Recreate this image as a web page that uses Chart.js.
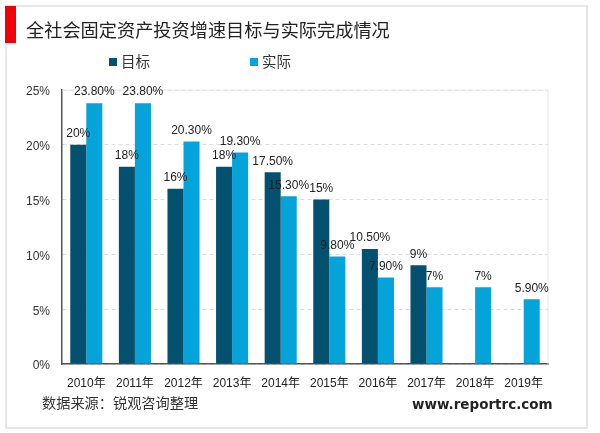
<!DOCTYPE html>
<html>
<head>
<meta charset="utf-8">
<style>
  html, body { margin: 0; padding: 0; background: #fff; }
  #wrap { position: relative; width: 600px; height: 433px; overflow: hidden; font-family: "Noto Sans CJK SC", sans-serif; }
  #frame { position: absolute; left: 5px; top: 5px; width: 583px; height: 424px; border: 2px solid #e6e6e6; box-sizing: border-box; }
  #mark { position: absolute; left: 5px; top: 6px; width: 11px; height: 37px; background: #f00008; }
  #title { position: absolute; left: 26px; top: 16px; font-size: 18.2px; line-height: 26px; color: #222; }
  #source { position: absolute; left: 42px; top: 392px; font-size: 14.2px; line-height: 20px; color: #333; }
  #site { position: absolute; left: 412px; top: 394px; font-family: "DejaVu Sans", sans-serif; font-size: 13.5px; font-weight: bold; line-height: 20px; color: #222; }
  canvas { position: absolute; left: 0; top: 0; }
</style>
</head>
<body>
<div id="wrap">
  <div id="frame"></div>
  <canvas id="chart" width="600" height="433"></canvas>
  <div id="mark"></div>
  <div id="title">全社会固定资产投资增速目标与实际完成情况</div>
  <div id="source">数据来源：锐观咨询整理</div>
  <div id="site">www.reportrc.com</div>
</div>
<script src="https://cdn.jsdelivr.net/npm/chart.js@4"></script>
<script>
// values
const years = ['2010年', '2011年', '2012年', '2013年', '2014年', '2015年', '2016年', '2017年', '2018年', '2019年'];
const targetValues = [20, 18, 16, 18, 17.5, 15, 10.5, 9, null, null];
const actualValues = [23.8, 23.8, 20.3, 19.3, 15.3, 9.8, 7.9, 7, 7, 5.9];
const targetLabels = ['20%', '18%', '16%', '18%', '17.50%', '15%', '10.50%', '9%', '', ''];
const actualLabels = ['23.80%', '23.80%', '20.30%', '19.30%', '15.30%', '9.80%', '7.90%', '7%', '7%', '5.90%'];
const yTicks = [0, 5, 10, 15, 20, 25];

// draws the text above each bar
const barLabels = {
  id: 'barLabels',
  afterDatasetsDraw(chart) {
    const ctx = chart.ctx;
    ctx.save();
    ctx.font = '12px "Liberation Sans", sans-serif';
    ctx.fillStyle = '#222';
    ctx.textAlign = 'center';
    ctx.textBaseline = 'bottom';
    chart.data.datasets.forEach((ds, i) => {
      chart.getDatasetMeta(i).data.forEach((bar, j) => {
        if (ds.data[j] === null) return;
        ctx.fillText(ds.valueLabels[j], bar.x, bar.y - 5);
      });
    });
    ctx.restore();
  }
};

// legend sits off-centre in the original, so it is placed by hand
const legendRow = {
  id: 'legendRow',
  afterDraw(chart) {
    const ctx = chart.ctx;
    const slots = [109, 250];
    ctx.save();
    ctx.font = '14.5px "Noto Sans CJK SC", sans-serif';
    ctx.textBaseline = 'middle';
    chart.data.datasets.forEach((ds, i) => {
      ctx.fillStyle = ds.backgroundColor;
      ctx.fillRect(slots[i], 58, 8, 8);
      ctx.fillStyle = '#333';
      ctx.fillText(ds.label, slots[i] + 12, 61);
    });
    ctx.restore();
  }
};

// light solid edge along the top and right of the plot area
const plotEdge = {
  id: 'plotEdge',
  beforeDatasetsDraw(chart) {
    const { ctx, chartArea: a } = chart;
    ctx.save();
    ctx.strokeStyle = '#e8e8e8';
    ctx.lineWidth = 1;
    ctx.beginPath();
    ctx.moveTo(a.left, a.top);
    ctx.lineTo(a.right, a.top);
    ctx.lineTo(a.right, a.bottom);
    ctx.stroke();
    ctx.restore();
  }
};

new Chart(document.getElementById('chart'), {
  type: 'bar',
  data: {
    labels: years,
    datasets: [
      { label: '目标', data: targetValues, valueLabels: targetLabels, backgroundColor: '#04506f', barPercentage: 1, categoryPercentage: 0.66 },
      { label: '实际', data: actualValues, valueLabels: actualLabels, backgroundColor: '#04a3da', barPercentage: 1, categoryPercentage: 0.66 }
    ]
  },
  options: {
    responsive: false,
    animation: false,
    layout: { padding: { left: 0, right: 52, top: 90, bottom: 0 } },
    plugins: {
      legend: { display: false },
      tooltip: { enabled: false }
    },
    scales: {
      x: {
        afterFit(axis) { axis.height = 69; },
        grid: { display: false },
        border: { color: '#555', width: 1.5 },
        ticks: { color: '#222', maxRotation: 0, padding: 4, font: { size: 12, family: '"Liberation Sans", "Noto Sans CJK SC", sans-serif' } }
      },
      y: {
        min: 0,
        max: 25,
        afterFit(axis) { axis.width = 62; },
        afterBuildTicks(axis) { axis.ticks = yTicks.map(v => ({ value: v })); },
        grid: { color: '#dcdcdc', drawTicks: false },
        border: { color: '#555', width: 1.5, dash: [4, 3] },
        ticks: { color: '#333', padding: 12, labelOffset: 2, callback: v => v + '%', font: { size: 12, family: '"Liberation Sans", sans-serif' } }
      }
    }
  },
  plugins: [plotEdge, barLabels, legendRow]
});
</script>
</body>
</html>
